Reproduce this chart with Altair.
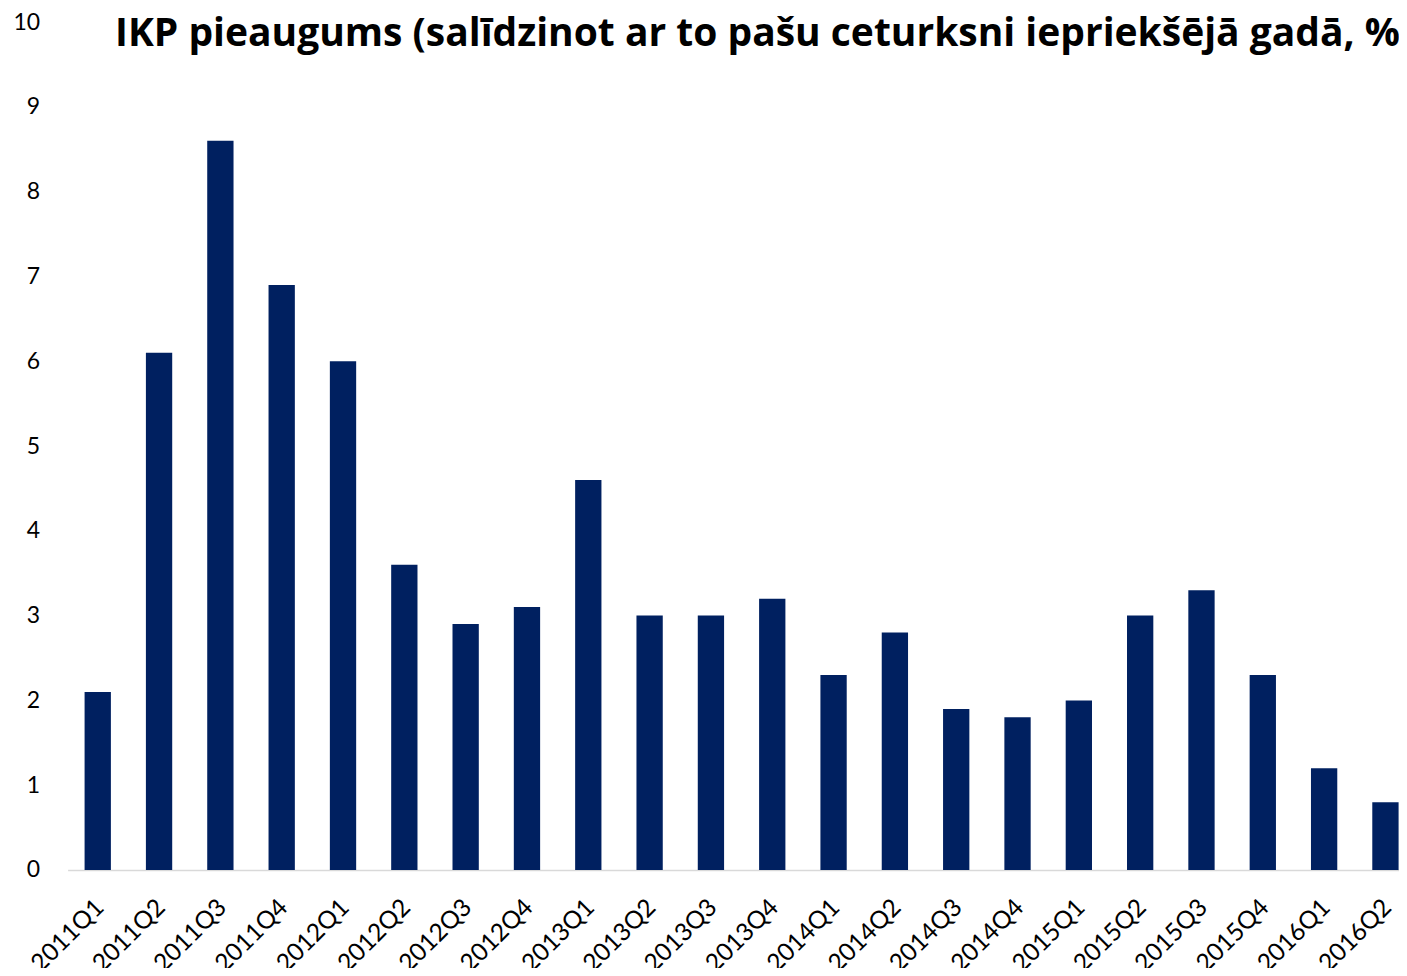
import altair as alt
import pandas as pd

quarters = ["2011Q1", "2011Q2", "2011Q3", "2011Q4",
            "2012Q1", "2012Q2", "2012Q3", "2012Q4",
            "2013Q1", "2013Q2", "2013Q3", "2013Q4",
            "2014Q1", "2014Q2", "2014Q3", "2014Q4",
            "2015Q1", "2015Q2", "2015Q3", "2015Q4",
            "2016Q1", "2016Q2"]
growth = [2.1, 6.1, 8.6, 6.9,
          6.0, 3.6, 2.9, 3.1,
          4.6, 3.0, 3.0, 3.2,
          2.3, 2.8, 1.9, 1.8,
          2.0, 3.0, 3.3, 2.3,
          1.2, 0.8]
y_ticks = list(range(0, 11))
title_text = "IKP pieaugums (salīdzinot ar to pašu ceturksni iepriekšējā gadā, %)"

df = pd.DataFrame({"q": quarters, "v": growth})

FONT = "Lato"
W = 1331
H = 848

chart = alt.Chart(df).mark_bar(color="#002060").encode(
    x=alt.X("q:N", sort=quarters,
            scale=alt.Scale(paddingInner=0.571, paddingOuter=0.1385, align=1),
            axis=alt.Axis(title=None, labelAngle=-45, labelFontSize=24.5, labelFont=FONT,
                          labelColor="#000000", ticks=False, domainColor="#d9d9d9",
                          domainWidth=1.5, labelPadding=25, labelOffset=-6)),
    y=alt.Y("v:Q", scale=alt.Scale(domain=[0, 10], nice=False),
            axis=alt.Axis(title=None, values=y_ticks, labelFontSize=23, labelFont=FONT,
                          labelColor="#000000", ticks=False, domain=False, grid=False,
                          labelPadding=28)),
).properties(
    width=W, height=H,
    title=alt.TitleParams(title_text, font="Open Sans", fontSize=39, fontWeight="bold",
                          color="#000000", anchor="start", frame="group",
                          dx=47.4, offset=0, baseline="alphabetic", dy=74),
    autosize=alt.AutoSizeParams(type="none"),
    padding={"left": 59.6, "top": 14, "right": 0, "bottom": 98},
).configure_view(stroke=None)

chart.save("out.html", embed_options={"renderer": "svg", "actions": False})
